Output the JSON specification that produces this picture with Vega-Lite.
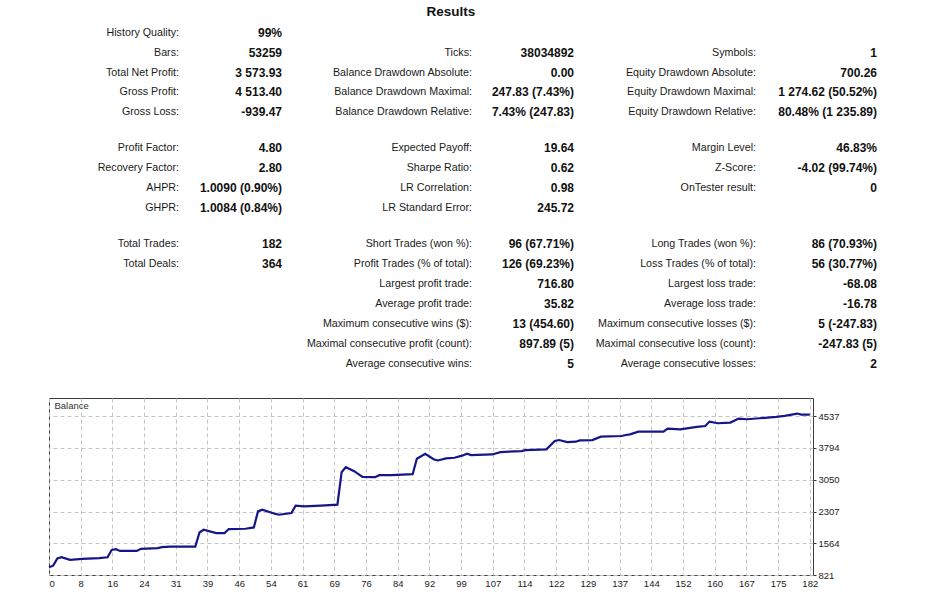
{
  "$schema": "https://vega.github.io/schema/vega-lite/v6.json",
  "width": 764,
  "height": 177,
  "autosize": {"type": "none"},
  "padding": {"left": 49, "top": 398, "right": 125, "bottom": 25},
  "background": "white",
  "config": {
    "view": {"stroke": "#3c3c3c", "strokeWidth": 1},
    "font": "Liberation Sans"
  },
  "datasets": {
    "stats": [
      {"row": 0, "col": 3, "kind": "title", "text": "Results"},
      {"row": 1, "col": 1, "kind": "label", "text": "History Quality:"},
      {"row": 1, "col": 2, "kind": "value", "text": "99%"},
      {"row": 2, "col": 1, "kind": "label", "text": "Bars:"},
      {"row": 2, "col": 2, "kind": "value", "text": "53259"},
      {"row": 2, "col": 3, "kind": "label", "text": "Ticks:"},
      {"row": 2, "col": 4, "kind": "value", "text": "38034892"},
      {"row": 2, "col": 5, "kind": "label", "text": "Symbols:"},
      {"row": 2, "col": 6, "kind": "value", "text": "1"},
      {"row": 3, "col": 1, "kind": "label", "text": "Total Net Profit:"},
      {"row": 3, "col": 2, "kind": "value", "text": "3 573.93"},
      {"row": 3, "col": 3, "kind": "label", "text": "Balance Drawdown Absolute:"},
      {"row": 3, "col": 4, "kind": "value", "text": "0.00"},
      {"row": 3, "col": 5, "kind": "label", "text": "Equity Drawdown Absolute:"},
      {"row": 3, "col": 6, "kind": "value", "text": "700.26"},
      {"row": 4, "col": 1, "kind": "label", "text": "Gross Profit:"},
      {"row": 4, "col": 2, "kind": "value", "text": "4 513.40"},
      {"row": 4, "col": 3, "kind": "label", "text": "Balance Drawdown Maximal:"},
      {"row": 4, "col": 4, "kind": "value", "text": "247.83 (7.43%)"},
      {"row": 4, "col": 5, "kind": "label", "text": "Equity Drawdown Maximal:"},
      {"row": 4, "col": 6, "kind": "value", "text": "1 274.62 (50.52%)"},
      {"row": 5, "col": 1, "kind": "label", "text": "Gross Loss:"},
      {"row": 5, "col": 2, "kind": "value", "text": "-939.47"},
      {"row": 5, "col": 3, "kind": "label", "text": "Balance Drawdown Relative:"},
      {"row": 5, "col": 4, "kind": "value", "text": "7.43% (247.83)"},
      {"row": 5, "col": 5, "kind": "label", "text": "Equity Drawdown Relative:"},
      {"row": 5, "col": 6, "kind": "value", "text": "80.48% (1 235.89)"},
      {"row": 6, "col": 1, "kind": "label", "text": "Profit Factor:"},
      {"row": 6, "col": 2, "kind": "value", "text": "4.80"},
      {"row": 6, "col": 3, "kind": "label", "text": "Expected Payoff:"},
      {"row": 6, "col": 4, "kind": "value", "text": "19.64"},
      {"row": 6, "col": 5, "kind": "label", "text": "Margin Level:"},
      {"row": 6, "col": 6, "kind": "value", "text": "46.83%"},
      {"row": 7, "col": 1, "kind": "label", "text": "Recovery Factor:"},
      {"row": 7, "col": 2, "kind": "value", "text": "2.80"},
      {"row": 7, "col": 3, "kind": "label", "text": "Sharpe Ratio:"},
      {"row": 7, "col": 4, "kind": "value", "text": "0.62"},
      {"row": 7, "col": 5, "kind": "label", "text": "Z-Score:"},
      {"row": 7, "col": 6, "kind": "value", "text": "-4.02 (99.74%)"},
      {"row": 8, "col": 1, "kind": "label", "text": "AHPR:"},
      {"row": 8, "col": 2, "kind": "value", "text": "1.0090 (0.90%)"},
      {"row": 8, "col": 3, "kind": "label", "text": "LR Correlation:"},
      {"row": 8, "col": 4, "kind": "value", "text": "0.98"},
      {"row": 8, "col": 5, "kind": "label", "text": "OnTester result:"},
      {"row": 8, "col": 6, "kind": "value", "text": "0"},
      {"row": 9, "col": 1, "kind": "label", "text": "GHPR:"},
      {"row": 9, "col": 2, "kind": "value", "text": "1.0084 (0.84%)"},
      {"row": 9, "col": 3, "kind": "label", "text": "LR Standard Error:"},
      {"row": 9, "col": 4, "kind": "value", "text": "245.72"},
      {"row": 10, "col": 1, "kind": "label", "text": "Total Trades:"},
      {"row": 10, "col": 2, "kind": "value", "text": "182"},
      {"row": 10, "col": 3, "kind": "label", "text": "Short Trades (won %):"},
      {"row": 10, "col": 4, "kind": "value", "text": "96 (67.71%)"},
      {"row": 10, "col": 5, "kind": "label", "text": "Long Trades (won %):"},
      {"row": 10, "col": 6, "kind": "value", "text": "86 (70.93%)"},
      {"row": 11, "col": 1, "kind": "label", "text": "Total Deals:"},
      {"row": 11, "col": 2, "kind": "value", "text": "364"},
      {"row": 11, "col": 3, "kind": "label", "text": "Profit Trades (% of total):"},
      {"row": 11, "col": 4, "kind": "value", "text": "126 (69.23%)"},
      {"row": 11, "col": 5, "kind": "label", "text": "Loss Trades (% of total):"},
      {"row": 11, "col": 6, "kind": "value", "text": "56 (30.77%)"},
      {"row": 12, "col": 3, "kind": "label", "text": "Largest profit trade:"},
      {"row": 12, "col": 4, "kind": "value", "text": "716.80"},
      {"row": 12, "col": 5, "kind": "label", "text": "Largest loss trade:"},
      {"row": 12, "col": 6, "kind": "value", "text": "-68.08"},
      {"row": 13, "col": 3, "kind": "label", "text": "Average profit trade:"},
      {"row": 13, "col": 4, "kind": "value", "text": "35.82"},
      {"row": 13, "col": 5, "kind": "label", "text": "Average loss trade:"},
      {"row": 13, "col": 6, "kind": "value", "text": "-16.78"},
      {"row": 14, "col": 3, "kind": "label", "text": "Maximum consecutive wins ($):"},
      {"row": 14, "col": 4, "kind": "value", "text": "13 (454.60)"},
      {"row": 14, "col": 5, "kind": "label", "text": "Maximum consecutive losses ($):"},
      {"row": 14, "col": 6, "kind": "value", "text": "5 (-247.83)"},
      {"row": 15, "col": 3, "kind": "label", "text": "Maximal consecutive profit (count):"},
      {"row": 15, "col": 4, "kind": "value", "text": "897.89 (5)"},
      {"row": 15, "col": 5, "kind": "label", "text": "Maximal consecutive loss (count):"},
      {"row": 15, "col": 6, "kind": "value", "text": "-247.83 (5)"},
      {"row": 16, "col": 3, "kind": "label", "text": "Average consecutive wins:"},
      {"row": 16, "col": 4, "kind": "value", "text": "5"},
      {"row": 16, "col": 5, "kind": "label", "text": "Average consecutive losses:"},
      {"row": 16, "col": 6, "kind": "value", "text": "2"}
    ],
    "balance": [
      {"trade": 0, "balance": 1000}, {"trade": 1, "balance": 1040}, {"trade": 2, "balance": 1210},
      {"trade": 3, "balance": 1237}, {"trade": 5, "balance": 1174}, {"trade": 8, "balance": 1197},
      {"trade": 12, "balance": 1214}, {"trade": 14, "balance": 1237}, {"trade": 15, "balance": 1409},
      {"trade": 16, "balance": 1425}, {"trade": 17, "balance": 1385}, {"trade": 21, "balance": 1385},
      {"trade": 22, "balance": 1433}, {"trade": 26, "balance": 1449}, {"trade": 27, "balance": 1472},
      {"trade": 29, "balance": 1487}, {"trade": 35, "balance": 1487}, {"trade": 36, "balance": 1816},
      {"trade": 37, "balance": 1879}, {"trade": 40, "balance": 1802}, {"trade": 42, "balance": 1802},
      {"trade": 43, "balance": 1896}, {"trade": 47, "balance": 1903}, {"trade": 49, "balance": 1934},
      {"trade": 50, "balance": 2310}, {"trade": 51, "balance": 2350}, {"trade": 54, "balance": 2256},
      {"trade": 55, "balance": 2232}, {"trade": 58, "balance": 2272}, {"trade": 59, "balance": 2444},
      {"trade": 61, "balance": 2428}, {"trade": 65, "balance": 2444}, {"trade": 69, "balance": 2467},
      {"trade": 70, "balance": 3227}, {"trade": 71, "balance": 3345}, {"trade": 73, "balance": 3251},
      {"trade": 75, "balance": 3119}, {"trade": 78, "balance": 3110}, {"trade": 79, "balance": 3157},
      {"trade": 82, "balance": 3157}, {"trade": 87, "balance": 3180}, {"trade": 88, "balance": 3542},
      {"trade": 90, "balance": 3660}, {"trade": 92, "balance": 3530}, {"trade": 93, "balance": 3502},
      {"trade": 95, "balance": 3549}, {"trade": 97, "balance": 3565}, {"trade": 99, "balance": 3620},
      {"trade": 100, "balance": 3660}, {"trade": 101, "balance": 3627}, {"trade": 106, "balance": 3643},
      {"trade": 108, "balance": 3698}, {"trade": 113, "balance": 3722}, {"trade": 114, "balance": 3745},
      {"trade": 119, "balance": 3761}, {"trade": 121, "balance": 3957}, {"trade": 122, "balance": 3980},
      {"trade": 124, "balance": 3933}, {"trade": 126, "balance": 3941}, {"trade": 127, "balance": 3973},
      {"trade": 130, "balance": 3980}, {"trade": 132, "balance": 4060}, {"trade": 137, "balance": 4074},
      {"trade": 138, "balance": 4097}, {"trade": 139, "balance": 4114}, {"trade": 141, "balance": 4177},
      {"trade": 147, "balance": 4177}, {"trade": 148, "balance": 4248}, {"trade": 151, "balance": 4231},
      {"trade": 155, "balance": 4286}, {"trade": 157, "balance": 4309}, {"trade": 158, "balance": 4412},
      {"trade": 160, "balance": 4373}, {"trade": 163, "balance": 4389}, {"trade": 165, "balance": 4483},
      {"trade": 167, "balance": 4467}, {"trade": 170, "balance": 4490}, {"trade": 174, "balance": 4521},
      {"trade": 176, "balance": 4544}, {"trade": 179, "balance": 4600}, {"trade": 180, "balance": 4577},
      {"trade": 182, "balance": 4574}
    ]
  },
  "layer": [
    {
      "data": {"name": "balance"},
      "mark": {"type": "line", "strokeWidth": 2.2},
      "encoding": {
        "x": {
          "field": "trade", "type": "quantitative",
          "scale": {"domain": [0, 182.77], "nice": false, "zero": false},
          "axis": {
            "title": null,
            "values": [0, 7.5833, 15.1667, 22.75, 30.3333, 37.9167, 45.5, 53.0833, 60.6667, 68.25, 75.8333, 83.4167, 91, 98.5833, 106.1667, 113.75, 121.3333, 128.9167, 136.5, 144.0833, 151.6667, 159.25, 166.8333, 174.4167, 182],
            "labelExpr": "['0','8','16','24','31','39','46','54','61','69','76','84','92','99','107','114','122','129','137','144','152','160','167','175','182'][round(datum.value*24/182)]",
            "grid": true, "gridColor": "#c4c4c4", "gridDash": [4, 3], "gridWidth": 1,
            "domain": false, "ticks": false,
            "labelFlush": true, "labelOverlap": false, "labelBound": false,
            "labelFont": "Liberation Sans", "labelFontSize": 9.5, "labelColor": "#222", "labelPadding": 3
          }
        },
        "y": {
          "field": "balance", "type": "quantitative",
          "scale": {"domain": [821, 4964], "nice": false, "zero": false},
          "axis": {
            "orient": "right", "title": null,
            "values": [821, 1564, 2307, 3050, 3794, 4537],
            "format": "d",
            "grid": true, "gridColor": "#c4c4c4", "gridDash": [4, 3], "gridWidth": 1,
            "domain": false, "ticks": true, "tickSize": 3, "tickColor": "#333",
            "labelFlush": false, "labelOverlap": false,
            "labelFont": "Liberation Sans", "labelFontSize": 9.5, "labelColor": "#222", "labelPadding": 2
          }
        },
        "color": {
          "datum": "Balance", "type": "nominal",
          "scale": {"range": ["#16168a"]},
          "legend": {
            "orient": "top-left", "title": null, "offset": 3, "padding": 0,
            "symbolSize": 0, "symbolStrokeWidth": 0, "symbolOpacity": 0, "labelOffset": -7,
            "labelFont": "Liberation Sans", "labelFontSize": 9.5, "labelColor": "#333"
          }
        }
      }
    },
    {
      "data": {"name": "stats"},
      "transform": [{"filter": "datum.kind == 'label'"}],
      "mark": {"type": "text", "align": "right", "baseline": "middle", "font": "Liberation Sans", "fontSize": 10.7, "color": "#1a1a1a"},
      "encoding": {
        "x": {"field": "col", "type": "quantitative", "axis": null,
              "scale": {"domain": [1, 2, 3, 4, 5, 6], "range": [130, 233, 423, 525, 707, 828], "zero": false, "nice": false}},
        "y": {"field": "row", "type": "quantitative", "axis": null,
              "scale": {"domain": [0, 1, 5, 6, 9, 10, 16], "range": [-386, -365, -286, -250, -190, -154, -34], "zero": false, "nice": false}},
        "text": {"field": "text"}
      }
    },
    {
      "data": {"name": "stats"},
      "transform": [{"filter": "datum.kind == 'value'"}],
      "mark": {"type": "text", "align": "right", "baseline": "middle", "font": "Liberation Sans", "fontSize": 12, "fontWeight": "bold", "color": "#111"},
      "encoding": {
        "x": {"field": "col", "type": "quantitative", "axis": null,
              "scale": {"domain": [1, 2, 3, 4, 5, 6], "range": [130, 233, 423, 525, 707, 828], "zero": false, "nice": false}},
        "y": {"field": "row", "type": "quantitative", "axis": null,
              "scale": {"domain": [0, 1, 5, 6, 9, 10, 16], "range": [-386, -365, -286, -250, -190, -154, -34], "zero": false, "nice": false}},
        "text": {"field": "text"}
      }
    },
    {
      "data": {"name": "stats"},
      "transform": [{"filter": "datum.kind == 'title'"}],
      "mark": {"type": "text", "align": "center", "baseline": "middle", "dx": -21, "font": "Liberation Sans", "fontSize": 13.5, "fontWeight": "bold", "color": "#111"},
      "encoding": {
        "x": {"field": "col", "type": "quantitative", "axis": null,
              "scale": {"domain": [1, 2, 3, 4, 5, 6], "range": [130, 233, 423, 525, 707, 828], "zero": false, "nice": false}},
        "y": {"field": "row", "type": "quantitative", "axis": null,
              "scale": {"domain": [0, 1, 5, 6, 9, 10, 16], "range": [-386, -365, -286, -250, -190, -154, -34], "zero": false, "nice": false}},
        "text": {"field": "text"}
      }
    }
  ],
  "resolve": {"scale": {"x": "independent", "y": "independent"}}
}
